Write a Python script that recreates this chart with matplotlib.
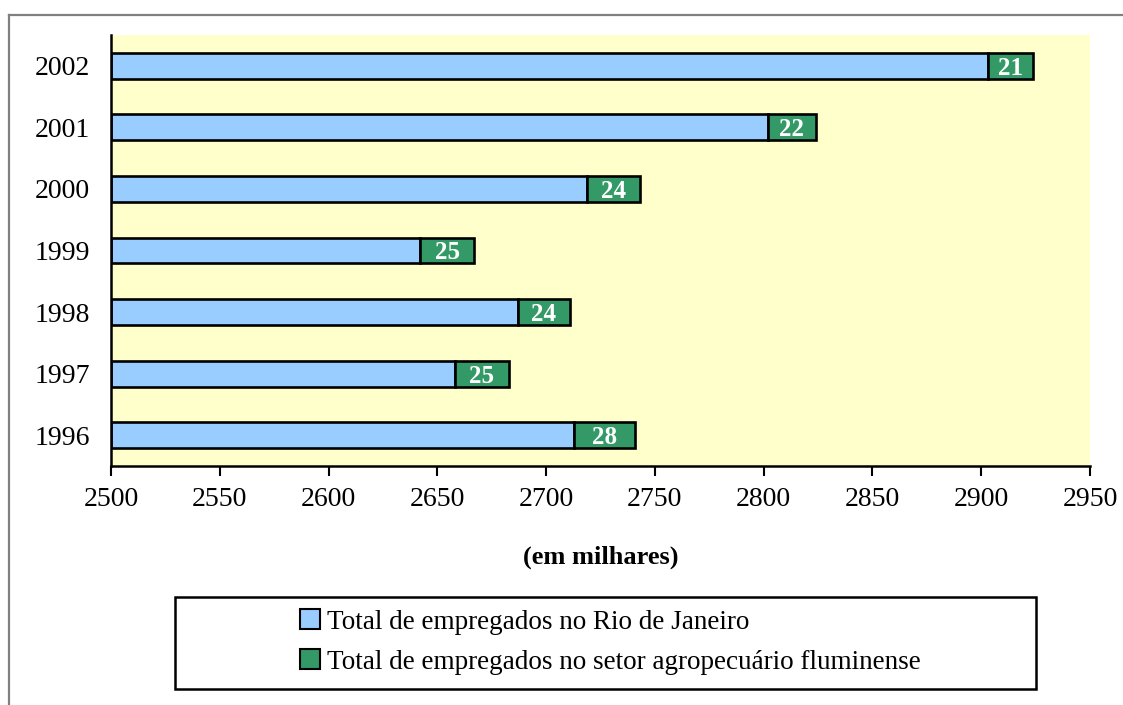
import matplotlib
matplotlib.use("Agg")
import matplotlib.pyplot as plt
from matplotlib.patches import Rectangle, Patch
from matplotlib.lines import Line2D

years = ["1996", "1997", "1998", "1999", "2000", "2001", "2002"]
total_rj = [2713, 2658, 2687, 2642, 2719, 2802, 2903]
agro = [28, 25, 24, 25, 24, 22, 21]
xticks = [2500, 2550, 2600, 2650, 2700, 2750, 2800, 2850, 2900, 2950]
labels = ["Total de empregados no Rio de Janeiro",
          "Total de empregados no setor agropecuário fluminense"]

plt.rcParams['font.family'] = ['Liberation Serif', 'DejaVu Serif']

W, H = 1123, 705
fig = plt.figure(figsize=(W / 100, H / 100), dpi=100)
ax = fig.add_axes([111 / W, 1 - 466 / H, (1090 - 111) / W, (466 - 35) / H])
ax.set_facecolor("#FFFFCC")

blue = "#99CCFF"
green = "#339966"
pos = list(range(len(years)))
h = 0.42
ax.barh(pos, [v - 2500 for v in total_rj], left=2500, height=h, color=blue,
        edgecolor="black", linewidth=1.9)
ax.barh(pos, agro, left=total_rj, height=h, color=green,
        edgecolor="black", linewidth=1.9)
for p, t, a in zip(pos, total_rj, agro):
    ax.text(t + a / 2, p, str(a), ha="center", va="center_baseline", color="white",
            fontsize=18, fontweight="bold")

ax.set_xlim(2500, 2950)
ax.set_ylim(-0.5, 6.5)
ax.set_yticks(pos)
ax.set_yticklabels(years, fontsize=20)
ax.set_xticks(xticks)
ax.set_xticklabels([str(x) for x in xticks], fontsize=20)
ax.tick_params(axis="y", length=0, pad=15)
ax.tick_params(axis="x", direction="out", length=7, width=1.5, pad=8)
for s in ["top", "right"]:
    ax.spines[s].set_visible(False)
for s in ["left", "bottom"]:
    ax.spines[s].set_linewidth(1.8)
ax.set_xlabel("(em milhares)", fontsize=19, fontweight="bold", labelpad=24)

# figure frame lines (gray)
fig.add_artist(Line2D([9 / W, 1.0], [1 - 15 / H, 1 - 15 / H], color="#808080",
                      linewidth=1.6, transform=fig.transFigure))
fig.add_artist(Line2D([9 / W, 9 / W], [0.0, 1 - 15 / H], color="#808080",
                      linewidth=1.6, transform=fig.transFigure))

# legend box
fig.add_artist(Rectangle((175 / W, 1 - 689 / H), (1036 - 175) / W, (689 - 597) / H,
                         transform=fig.transFigure, facecolor="white",
                         edgecolor="black", linewidth=1.8))
handles = [Patch(facecolor=blue, edgecolor="black", linewidth=1.5),
           Patch(facecolor=green, edgecolor="black", linewidth=1.5)]
fig.legend(handles, labels, loc="center", bbox_to_anchor=(610 / W, 1 - 642 / H),
           frameon=False, fontsize=19.5, handlelength=0.75, handleheight=0.75,
           handletextpad=0.25, labelspacing=0.55, borderpad=0)

fig.savefig("out.png", dpi=100)
